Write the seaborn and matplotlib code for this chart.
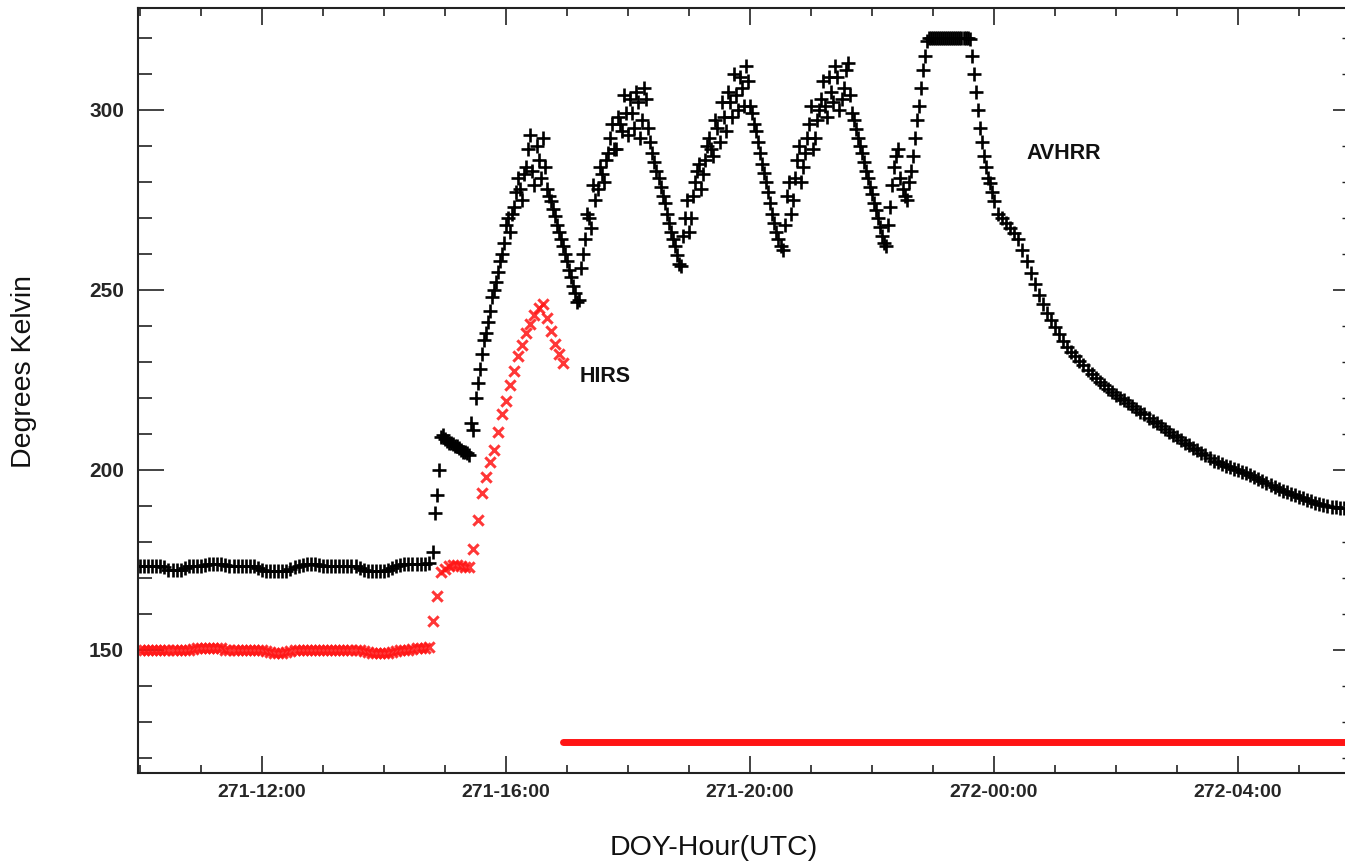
import numpy as np
import matplotlib
matplotlib.use("Agg")
import matplotlib.pyplot as plt
from matplotlib.ticker import MultipleLocator
import seaborn as sns

# Both instruments sampled every 4 minutes starting at 271-10:00 UTC
start_hour = 10.0
sample_minutes = 4

# AVHRR brightness temperature (K)
avhrr_kelvin = [
    # 271-10
    173.3, 173.3, 173.3, 173.3, 173.3, 173.3, 172.8, 172.0, 172.0, 172.0, 172.0, 172.6, 173.2, 173.2, 173.2,
    # 271-11
    173.2, 173.4, 173.7, 173.7, 173.7, 173.7, 173.5, 173.2, 173.2, 173.2, 173.2, 173.2, 173.2, 173.2, 172.6,
    # 271-12
    172.0, 171.9, 171.9, 171.9, 171.9, 171.9, 171.9, 172.3, 173.0, 173.3, 173.5, 173.7, 173.7, 173.7, 173.6,
    # 271-13
    173.3, 173.2, 173.2, 173.2, 173.2, 173.2, 173.2, 173.2, 173.2, 172.6, 172.0, 171.9, 171.9, 171.9, 171.9,
    # 271-14
    171.9, 172.0, 172.6, 173.2, 173.5, 173.7, 173.7, 173.8, 173.8, 173.8, 173.8, 173.9, 177.0, 193.0, 209.0,
    # 271-15
    208.5, 207.5, 207.0, 206.5, 205.5, 205.0, 204.0, 211.0, 224.0, 232.0, 238.0, 244.0, 250.0, 255.0, 260.0,
    # 271-16
    268.0, 266.0, 273.0, 281.0, 275.0, 284.0, 293.0, 279.0, 286.0, 292.0, 278.0, 274.5, 270.5, 266.0, 262.0,
    # 271-17
    258.0, 253.5, 249.0, 247.0, 260.0, 271.0, 267.0, 275.0, 284.0, 280.0, 288.0, 296.0, 289.0, 296.0, 304.0,
    # 271-18
    293.0, 299.0, 305.0, 292.0, 306.0, 295.0, 288.0, 283.0, 278.5, 274.0, 268.5, 264.0, 259.5, 256.5, 270.0,
    # 271-19
    266.0, 276.0, 283.0, 278.0, 286.0, 292.0, 287.0, 295.0, 302.0, 294.0, 302.0, 310.0, 300.0, 306.0, 312.0,
    # 271-20
    301.0, 296.0, 291.0, 285.0, 280.0, 274.0, 268.5, 264.0, 261.0, 276.0, 271.0, 281.0, 290.0, 284.0, 292.0,
    # 271-21
    301.0, 292.0, 300.0, 308.0, 298.0, 305.0, 312.0, 300.0, 306.0, 313.0, 299.0, 294.5, 290.0, 285.5, 281.0,
    # 271-22
    276.5, 272.0, 267.5, 263.0, 268.0, 279.0, 287.0, 281.0, 276.0, 280.0, 287.0, 297.0, 306.0, 315.0, 320.0,
    # 271-23
    320.0, 320.0, 320.0, 320.0, 320.0, 320.0, 320.0, 320.0, 320.0, 319.5, 310.0, 300.0, 291.0, 284.0, 279.5,
    # 272-00
    274.5, 271.0, 269.8, 268.5, 267.2, 265.8, 264.0, 261.0, 258.0, 254.6, 251.5, 248.6, 246.0, 243.4, 241.5,
    # 272-01
    239.6, 237.6, 235.8, 234.0, 232.7, 231.4, 230.1, 228.9, 227.7, 226.5, 225.3, 224.4, 223.5, 222.5, 221.5,
    # 272-02
    220.7, 220.0, 219.2, 218.4, 217.7, 216.9, 216.1, 215.3, 214.3, 213.5, 212.8, 212.0, 211.2, 210.5, 209.7,
    # 272-03
    208.9, 208.1, 207.4, 206.7, 206.0, 205.3, 204.6, 203.9, 203.2, 202.5, 202.0, 201.5, 201.1, 200.6, 200.2,
    # 272-04
    199.8, 199.4, 199.0, 198.5, 197.9, 197.3, 196.8, 196.2, 195.7, 195.1, 194.6, 194.1, 193.7, 193.3, 192.9,
    # 272-05
    192.5, 192.0, 191.6, 191.2, 190.8, 190.5, 190.2, 189.9, 189.7, 189.5, 189.4, 189.3,
]

# Interleaved AVHRR scans (2 minutes after each sample) during the active period
avhrr_mid_start_hour = 14.8333
avhrr_mid_kelvin = [
    188.0, 200.0, 209.5,
    # 271-15
    208.0, 207.5, 206.5, 206.0, 205.0, 204.5, 213.0, 220.0, 228.0, 236.0, 241.0, 248.0, 252.0, 258.0, 263.0,
    # 271-16
    270.0, 271.0, 277.0, 278.0, 282.0, 289.0, 283.0, 290.0, 281.0, 284.0, 276.0, 272.5, 268.0, 264.0, 260.0,
    # 271-17
    255.5, 251.0, 246.5, 256.0, 264.0, 270.0, 279.0, 278.0, 282.0, 286.0, 292.0, 289.0, 298.0, 294.0, 299.0,
    # 271-18
    303.0, 295.0, 302.0, 297.0, 303.0, 291.0, 285.5, 281.0, 276.0, 271.0, 266.0, 262.0, 257.0, 265.0, 275.0,
    # 271-19
    270.0, 280.0, 285.0, 282.0, 290.0, 289.0, 297.0, 291.0, 298.0, 305.0, 298.0, 304.0, 309.0, 301.0, 308.0,
    # 271-20
    299.0, 294.0, 288.0, 282.5, 277.0, 271.0, 266.0, 262.0, 268.0, 280.0, 275.0, 286.0, 280.0, 288.0, 296.0,
    # 271-21
    289.0, 297.0, 303.0, 301.0, 309.0, 302.0, 309.0, 303.0, 311.0, 304.0, 297.0, 292.0, 288.0, 283.0, 278.5,
    # 271-22
    274.0, 270.0, 265.0, 262.0, 273.0, 284.0, 289.0, 278.0, 275.0, 283.0, 292.0, 301.0, 311.0, 319.0, 320.0,
    # 271-23
    320.0, 320.0, 320.0, 320.0, 320.0, 320.0, 320.0, 320.0, 320.0, 315.0, 305.0, 295.0, 287.0, 281.0, 277.0,
]

# HIRS brightness temperature (K)
hirs_kelvin = [
    # 271-10
    150.0, 150.0, 150.0, 150.0, 150.0, 150.0, 150.0, 150.0, 150.0, 150.0, 150.0, 150.0, 150.0, 150.2, 150.4,
    # 271-11
    150.4, 150.4, 150.5, 150.5, 150.5, 150.3, 150.0, 150.0, 150.0, 150.0, 150.0, 150.0, 150.0, 150.0, 149.8,
    # 271-12
    149.8, 149.5, 149.2, 149.0, 149.0, 149.0, 149.3, 149.7, 150.0, 150.0, 150.0, 150.0, 150.0, 150.0, 150.0,
    # 271-13
    150.0, 150.0, 150.0, 150.0, 150.0, 150.0, 150.0, 150.0, 150.0, 149.8, 149.5, 149.2, 149.0, 149.0, 149.0,
    # 271-14
    149.0, 149.0, 149.3, 149.7, 150.0, 150.0, 150.0, 150.2, 150.3, 150.3, 150.4, 150.7, 158.0, 165.0, 171.5,
    # 271-15
    172.5, 173.3, 173.5, 173.5, 173.2, 173.0, 173.0, 178.0, 186.0, 193.5, 198.0, 202.0, 205.5, 210.5, 215.5,
    # 271-16
    219.0, 223.5, 227.5, 231.5, 234.5, 238.0, 240.5, 243.0, 245.0, 246.0, 242.0, 238.5, 235.0, 232.0, 229.5,
]

# HIRS fill level after the data stop
hirs_fill_hours = [16.93, 29.9]
hirs_fill_kelvin = [124.3, 124.3]

tick_hours = [12, 16, 20, 24, 28]
tick_labels = ["271-12:00", "271-16:00", "271-20:00", "272-00:00", "272-04:00"]
kelvin_ticks = [150, 200, 250, 300]

step = sample_minutes / 60.0
avhrr_hours = start_hour + np.arange(len(avhrr_kelvin)) * step
avhrr_mid_hours = avhrr_mid_start_hour + np.arange(len(avhrr_mid_kelvin)) * step
hirs_hours = start_hour + np.arange(len(hirs_kelvin)) * step

sns.set_style("white")
plt.rcParams["font.family"] = ["Liberation Sans", "DejaVu Sans"]

W, H = 1345, 864
fig = plt.figure(figsize=(W / 100, H / 100), dpi=100)
ax = fig.add_axes([138 / W, 91 / H, (1350 - 138) / W, 765 / H])

red = "#ff1414"
sns.lineplot(x=hirs_fill_hours, y=hirs_fill_kelvin, color=red,
             linewidth=5.0, ax=ax)
sns.scatterplot(x=hirs_hours, y=hirs_kelvin, marker="x", s=55,
                color=red, linewidth=2.2, alpha=0.85, ax=ax)
plus_style = dict(marker="+", s=95, color="black", linewidth=1.9, ax=ax)
sns.scatterplot(x=avhrr_hours, y=avhrr_kelvin, **plus_style)
sns.scatterplot(x=avhrr_mid_hours, y=avhrr_mid_kelvin, **plus_style)

ax.set_xlim(9.967, 29.836)
ax.set_ylim(115.7, 328.2)

ax.set_xticks(tick_hours)
ax.set_xticklabels(tick_labels, fontsize=14, fontweight="bold")
ax.xaxis.set_minor_locator(MultipleLocator(1))
ax.tick_params(axis="x", which="both", direction="in", top=True, bottom=True,
               color="#222222")
ax.tick_params(axis="x", which="major", length=12, width=1.2, pad=8)
ax.tick_params(axis="x", which="minor", length=6, width=1.2)

ax.set_yticks(kelvin_ticks)
ax.set_yticklabels([str(v) for v in kelvin_ticks], fontsize=15, fontweight="bold")
ax.yaxis.set_minor_locator(MultipleLocator(10))
ax.tick_params(axis="y", which="both", direction="in", left=True, right=False,
               color="#222222")
ax.tick_params(axis="y", which="major", length=19, width=1.2, pad=10)
ax.tick_params(axis="y", which="minor", length=10, width=1.2)

# Right-hand ticks are shorter than the left ones
ax2 = ax.twinx()
ax2.set_ylim(ax.get_ylim())
ax2.set_yticks(kelvin_ticks)
ax2.yaxis.set_minor_locator(MultipleLocator(10))
ax2.tick_params(axis="y", which="both", direction="in", labelright=False,
                color="#222222")
ax2.tick_params(axis="y", which="major", length=12, width=1.2)
ax2.tick_params(axis="y", which="minor", length=6, width=1.0)
for sp in ax2.spines.values():
    sp.set_visible(False)

for sp in ax.spines.values():
    sp.set_color("#222222")
    sp.set_linewidth(1.5)

ax.set_xlabel("")
ax.set_ylabel("")
ax.text(17.213, 225.97, "HIRS", fontsize=15.5, fontweight="bold",
        ha="left", va="center", color="#111111")
ax.text(24.525, 287.9, "AVHRR", fontsize=15.5, fontweight="bold",
        ha="left", va="center", color="#111111")

fig.text(714 / W, 1 - 848 / H, "DOY-Hour(UTC)", fontsize=20.5,
         ha="center", va="center", color="#111111")
fig.text(24 / W, 1 - 372 / H, "Degrees Kelvin", fontsize=20.5, rotation=90,
         ha="center", va="center", color="#111111")

fig.savefig("out.png", dpi=100)
